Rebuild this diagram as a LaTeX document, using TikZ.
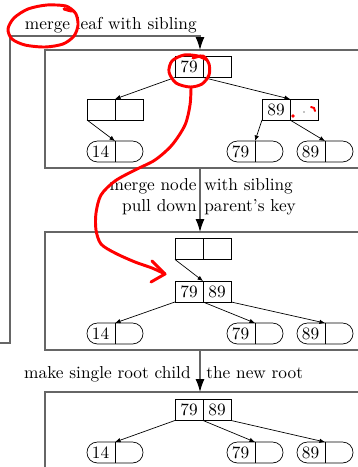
\documentclass[tikz,border=0pt]{standalone}
\usetikzlibrary{positioning,arrows.meta}
\tikzstyle{keycell} = [rectangle, draw, minimum width=16.2pt, minimum height=12.1pt, inner sep=0pt, outer sep=0pt]
\tikzstyle{leafnode} = [rectangle, draw, rounded corners=6pt, minimum width=32.4pt, minimum height=12.1pt, inner sep=0pt, outer sep=0pt]
\tikzstyle{leafkey} = [minimum width=16.2pt, minimum height=12.1pt, inner sep=0pt]
\tikzstyle{ptr} = [-{Latex[length=3.2pt,width=2.6pt]}]
\tikzstyle{frame} = [draw=black!60, line width=0.7pt]
\tikzstyle{stage} = [frame, -{Latex[length=7.5pt,width=5.2pt,black]}]
\tikzstyle{scribble} = [red, line width=1.7pt, line cap=round, line join=round]

\begin{document}
\begin{tikzpicture}[x=0.578pt, y=-0.578pt, node distance=0pt]
				\useasboundingbox (0,0) rectangle (358,467);
				% Frames for the three steps
				\draw[frame] (45,50) rectangle (400,168);
				\draw[frame] (45,232) rectangle (400,350);
				\draw[frame] (45,392) rectangle (400,500);
				\coordinate (prev) at (0,343);
				\coordinate (p1n) at (200,50);
				\coordinate (p1s) at (200,168);
				\coordinate (p2n) at (200,232);
				\coordinate (p2s) at (200,350);
				\coordinate (p3n) at (200,392);
				\draw[stage] (prev) -- (10,343) |- (200,36) -- (p1n);
				\draw[stage] (p1s) -- (p2n);
				\draw[stage] (p2s) -- (p3n);
				
				% Step labels
				\node (lblone) [anchor=base east, inner sep=0pt] at (197,29) {merge leaf with sibling};
				\node (lbltwoa) [anchor=east, align=right, inner sep=0pt] at (197,197) {merge node\\pull down};
				\node (lbltwob) [anchor=west, align=left, inner sep=0pt] at (204,197) {with sibling\\parent's key};
				\node (lblthreea) [anchor=base east, inner sep=0pt] at (191,378) {make single root child};
				\node (lblthreeb) [anchor=base west, inner sep=0pt] at (206,378) {the new root};
				
				% Step 1
				\node (ra) [keycell] at (189,67) {79};
				\node (rb) [keycell, right=of ra] {};
				\node (ia) [keycell] at (101,109.5) {};
				\node (ib) [keycell, right=of ia] {};
				\node (ja) [keycell] at (276,109.5) {89};
				\node (jb) [keycell, right=of ja] {};
				\node (la) [leafnode] at (115,151.5) {};
				\node (lak) [leafkey, left=of la.center] {14};
				\node (lb) [leafnode] at (255,151.5) {};
				\node (lbk) [leafkey, left=of lb.center] {79};
				\node (lc) [leafnode] at (325,151.5) {};
				\node (lck) [leafkey, left=of lc.center] {89};
				\draw (la.north) -- (la.south);
				\draw (lb.north) -- (lb.south);
				\draw (lc.north) -- (lc.south);
				\draw[ptr] (ra.south west) -- (ia.north east);
				\draw[ptr] (ra.south east) -- (ja.north east);
				\draw[ptr] (ia.south west) -- (la.north);
				\draw[ptr] (ja.south west) -- (lb.north);
				\draw[ptr] (ja.south east) -- (lc.north);
				
				% Step 2
				\node (sa) [keycell] at (189,249) {};
				\node (sb) [keycell, right=of sa] {};
				\node (ma) [keycell] at (189,291.5) {79};
				\node (mb) [keycell, right=of ma] {89};
				\node (ld) [leafnode] at (115,333.5) {};
				\node (ldk) [leafkey, left=of ld.center] {14};
				\node (le) [leafnode] at (255,333.5) {};
				\node (lek) [leafkey, left=of le.center] {79};
				\node (lf) [leafnode] at (325,333.5) {};
				\node (lfk) [leafkey, left=of lf.center] {89};
				\draw (ld.north) -- (ld.south);
				\draw (le.north) -- (le.south);
				\draw (lf.north) -- (lf.south);
				\draw[ptr] (sa.south west) -- (ma.north east);
				\draw[ptr] (ma.south west) -- (ld.north);
				\draw[ptr] (ma.south east) -- (le.north);
				\draw[ptr] (mb.south east) -- (lf.north);
				
				% Step 3
				\node (na) [keycell] at (189,410) {79};
				\node (nb) [keycell, right=of na] {89};
				\node (lg) [leafnode] at (115,452.5) {};
				\node (lgk) [leafkey, left=of lg.center] {14};
				\node (lh) [leafnode] at (255,452.5) {};
				\node (lhk) [leafkey, left=of lh.center] {79};
				\node (li) [leafnode] at (325,452.5) {};
				\node (lik) [leafkey, left=of li.center] {89};
				\draw (lg.north) -- (lg.south);
				\draw (lh.north) -- (lh.south);
				\draw (li.north) -- (li.south);
				\draw[ptr] (na.south west) -- (lg.north);
				\draw[ptr] (na.south east) -- (lh.north);
				\draw[ptr] (nb.south east) -- (li.north);
				
				% Red pen marks
				\draw[scribble] plot[smooth] coordinates {(64,9) (72,11) (66,6) (47,5) (28,9) (14,18) (8,29) (12,39) (25,45) (45,47) (63,44) (74,36) (78,25) (76,14) (70,8)};
				\draw[scribble] plot[smooth] coordinates {(193,58) (203,56) (209,64) (209,75) (202,84) (190,87) (176,83) (169,72) (172,61) (184,55) (198,56) (207,60)};
				\draw[scribble] plot[smooth] coordinates {(191,88) (190,105) (185,125) (172,145) (155,160) (135,170) (115,181) (101,195) (96,213) (96,230) (101,244) (115,253) (135,262) (152,268) (165,274)};
				\draw[scribble] (152,261) -- (165,274) -- (151,282);
				\fill[red] (293,116) circle[radius=1.1pt];
				\draw[red, line width=1.1pt, line cap=round] (311,107) -- (314,108) -- (315,111);
				\fill (304,112) circle[radius=0.35pt];
				
			\end{tikzpicture}
\end{document}
